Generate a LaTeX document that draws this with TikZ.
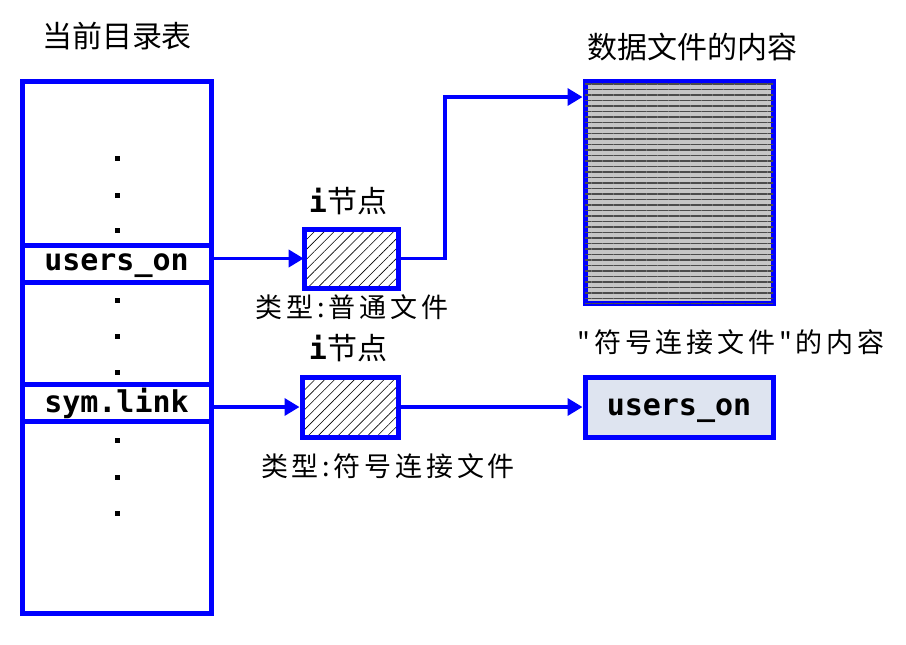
\documentclass[tikz,border=0pt]{standalone}
\usepackage{fontspec}
\setmonofont{DejaVu Sans Mono}
\newfontfamily\cjk{Noto Sans CJK SC}
\newfontfamily\cjkw[LetterSpace=14]{Noto Sans CJK SC}
\usetikzlibrary{arrows.meta,patterns,patterns.meta}
\definecolor{bl}{RGB}{0,0,255}
\definecolor{symfill}{RGB}{222,228,240}
\begin{document}
\begin{tikzpicture}[x=1pt,y=-1pt,
  box/.style={draw=bl,line width=5pt,inner sep=0pt,anchor=center},
  rowtext/.style={font=\ttfamily\bfseries\fontsize{30}{32}\selectfont,inner sep=0pt},
  arr/.style={draw=bl,line width=3.5pt,-{Triangle[length=15pt,width=17pt]}},
  dotsq/.style={fill=black,inner sep=0pt,minimum size=5pt},
  title/.style={font=\cjk\fontsize{30}{32}\selectfont,inner sep=0pt},
  lab/.style={font=\cjkw\fontsize{27}{29}\selectfont,inner sep=0pt},
  hatch/.style={pattern={Lines[angle=45,distance=7pt,line width=0.6pt]},pattern color=black}
]
\useasboundingbox (0,0) rectangle (906,645);
% directory table
\node[box,minimum width=189pt,minimum height=532pt] (tab) at (116.5,347) {};
\node[box,minimum width=189pt,minimum height=37pt] (r1) at (116.5,263.5) {};
\node[box,minimum width=189pt,minimum height=37pt] (r2) at (116.5,402.5) {};
\node[rowtext] (r1t) at (116.5,266) {users\_on};
\node[rowtext] (r2t) at (116.5,403) {sym.link};
\node[title] (t1) at (117,36) {当前目录表};
\foreach \y [count=\i] in {158,195,230,300,336,372,440,477,513}
  \node[dotsq] (d\i) at (117,\y) {};
% inodes
\node[box,minimum width=94pt,minimum height=59pt,hatch] (in1) at (351,258.5) {};
\node[box,minimum width=96pt,minimum height=60pt,hatch] (in2) at (350,407) {};
\node[title] (il1) at (348,201) {\textbf{\ttfamily i}节点};
\node[title] (il2) at (348,348) {\textbf{\ttfamily i}节点};
\node[lab] (ty1) at (352,307) {类型:普通文件};
\node[lab] (ty2) at (388,466) {类型:符号连接文件};
% data boxes
\node[box,minimum width=188pt,minimum height=222pt,fill=gray!45,
  postaction={pattern={Lines[angle=0,distance=5.5pt,line width=1.4pt]},pattern color=black!70}] (data) at (679,192) {};
\node[title] (t2) at (692,47) {数据文件的内容};
\node[box,minimum width=188pt,minimum height=60pt,fill=symfill] (sym) at (679,407) {};
\node[rowtext] (symt) at (679,411) {users\_on};
\node[lab] (t3) at (731,342) {"符号连接文件"的内容};
% connectors
\draw[arr] (in1.west -| r1.east) -- (in1.west);
\draw[arr] (in2.west -| r2.east) -- (in2.west);
\coordinate (bend) at (445,97);
\draw[arr] (in1.east) -| (bend) -- (bend -| data.west);
\draw[arr] (in2.east) -- (sym.west);
\end{tikzpicture}
\end{document}
